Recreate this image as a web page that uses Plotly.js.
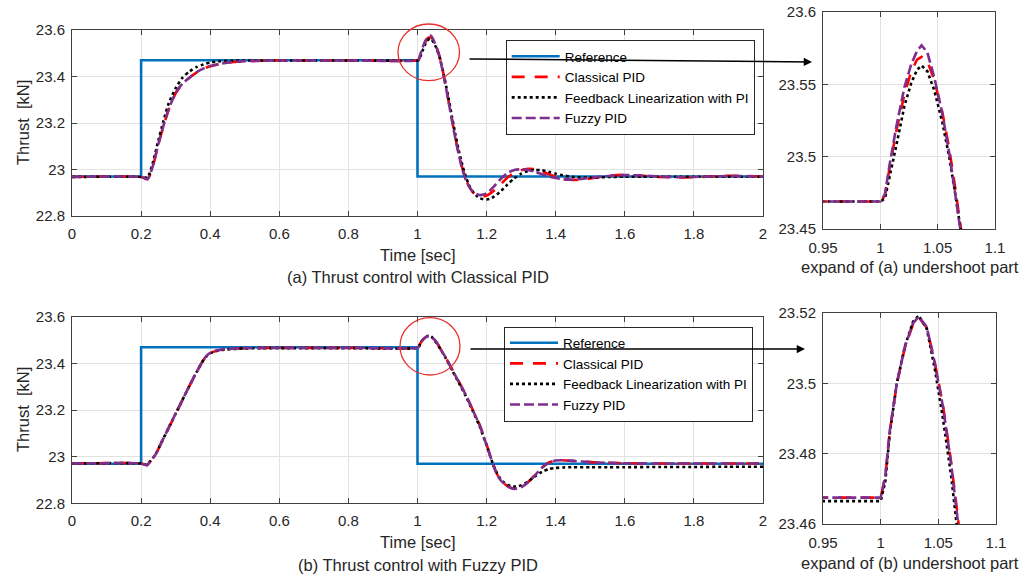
<!DOCTYPE html>
<html>
<head>
<meta charset="utf-8">
<script src="https://cdn.plot.ly/plotly-3.0.1.min.js"></script>
<style>html,body{margin:0;padding:0;background:#fff;}#chart{width:1035px;height:579px;}</style>
</head>
<body>
<div id="chart"></div>
<script>
// ---------- data ----------
const seriesNames = ["Reference", "Classical PID", "Feedback Linearization with PI", "Fuzzy PID"];

const refTime = [0, 0.2, 0.2, 1.0, 1.0, 2.0];
const refThrust = [22.97, 22.97, 23.47, 23.47, 22.97, 22.97];

// (a) Thrust control with Classical PID
const timeA = [0, 0.2, 0.21, 0.218, 0.225, 0.235, 0.25, 0.265, 0.28, 0.30, 0.32, 0.34, 0.36, 0.38, 0.40, 0.43, 0.46, 0.50, 0.55, 0.60, 0.80, 1.0,
  1.004, 1.008, 1.014, 1.021, 1.027, 1.032, 1.036, 1.041, 1.047, 1.054, 1.060, 1.065, 1.070,
  1.08, 1.09, 1.10, 1.11, 1.12, 1.13, 1.14, 1.15, 1.16, 1.17, 1.18, 1.19, 1.20, 1.21, 1.22,
  1.24, 1.26, 1.28, 1.30, 1.32, 1.34, 1.36, 1.38, 1.40, 1.42, 1.45, 1.48,
  1.52, 1.56, 1.60, 1.65, 1.70, 1.75, 1.80, 1.85, 1.90, 1.95, 2.0];
const classicalA = [22.968, 22.968, 22.962, 22.958, 22.974, 23.018, 23.108, 23.188, 23.258, 23.328, 23.369, 23.395, 23.417, 23.433, 23.444, 23.455, 23.462, 23.466, 23.468, 23.469, 23.469, 23.469,
  23.473, 23.492, 23.518, 23.543, 23.559, 23.567, 23.569, 23.566, 23.553, 23.531, 23.506, 23.480, 23.448,
  23.375, 23.295, 23.215, 23.135, 23.065, 23.005, 22.958, 22.925, 22.903, 22.891, 22.885, 22.884, 22.888, 22.896, 22.907,
  22.935, 22.965, 22.985, 22.997, 23.003, 23.001, 22.992, 22.980, 22.968, 22.960, 22.955, 22.957,
  22.966, 22.974, 22.977, 22.973, 22.968, 22.966, 22.967, 22.970, 22.973, 22.972, 22.970];
const feedbackA = [22.968, 22.968, 22.965, 22.966, 22.985, 23.035, 23.125, 23.21, 23.285, 23.35, 23.395, 23.422, 23.44, 23.452, 23.46, 23.466, 23.468, 23.469, 23.469, 23.469, 23.469, 23.469,
  23.471, 23.485, 23.508, 23.535, 23.551, 23.560, 23.563, 23.559, 23.546, 23.524, 23.500, 23.476, 23.448,
  23.38, 23.305, 23.225, 23.148, 23.078, 23.018, 22.968, 22.93, 22.905, 22.888, 22.877, 22.872, 22.871, 22.874, 22.882,
  22.905, 22.935, 22.962, 22.982, 22.994, 22.998, 22.997, 22.990, 22.982, 22.975, 22.968, 22.965,
  22.966, 22.968, 22.969, 22.969, 22.969, 22.969, 22.969, 22.969, 22.969, 22.969, 22.969];
const fuzzyA = [22.968, 22.968, 22.962, 22.958, 22.975, 23.02, 23.11, 23.19, 23.26, 23.33, 23.37, 23.395, 23.418, 23.434, 23.445, 23.455, 23.462, 23.466, 23.468, 23.469, 23.469, 23.469,
  23.474, 23.494, 23.521, 23.548, 23.564, 23.573, 23.577, 23.572, 23.555, 23.530, 23.503, 23.476, 23.443,
  23.37, 23.29, 23.21, 23.13, 23.06, 23.00, 22.955, 22.925, 22.905, 22.895, 22.890, 22.892, 22.898, 22.910, 22.925,
  22.958, 22.985, 22.998, 23.001, 22.998, 22.990, 22.980, 22.970, 22.963, 22.958, 22.956, 22.960,
  22.968, 22.973, 22.976, 22.974, 22.970, 22.967, 22.968, 22.970, 22.972, 22.971, 22.970];

// (b) Thrust control with Fuzzy PID
const timeB = [0, 0.2, 0.21, 0.218, 0.225, 0.24, 0.26, 0.28, 0.30, 0.32, 0.34, 0.36, 0.38, 0.39, 0.40, 0.42, 0.45, 0.50, 0.55, 0.60, 0.80, 1.0,
  1.004, 1.008, 1.014, 1.021, 1.028, 1.033, 1.04, 1.047, 1.054, 1.061, 1.067,
  1.08, 1.10, 1.12, 1.14, 1.16, 1.18, 1.20, 1.21, 1.22, 1.23, 1.24, 1.25, 1.26, 1.27, 1.28, 1.29, 1.30, 1.31, 1.32,
  1.34, 1.36, 1.38, 1.40, 1.42, 1.45, 1.50, 1.55, 1.60, 1.70, 1.80, 1.90, 2.0];
const classicalB = [22.971, 22.971, 22.966, 22.964, 22.977, 23.004, 23.064, 23.124, 23.184, 23.244, 23.304, 23.361, 23.414, 23.433, 23.445, 23.456, 23.463, 23.466, 23.4672, 23.4675, 23.4675, 23.4675,
  23.4734, 23.4865, 23.4998, 23.5102, 23.5168, 23.5188, 23.5158, 23.5058, 23.4937, 23.4778, 23.4618,
  23.431, 23.376, 23.321, 23.266, 23.201, 23.136, 23.052, 23.007, 22.962, 22.926, 22.901, 22.886, 22.874, 22.867, 22.863, 22.865, 22.870, 22.879, 22.891,
  22.921, 22.953, 22.975, 22.984, 22.985, 22.982, 22.977, 22.974, 22.972, 22.971, 22.971, 22.971, 22.971];
const feedbackB = [22.971, 22.971, 22.967, 22.965, 22.978, 23.005, 23.065, 23.125, 23.185, 23.245, 23.305, 23.362, 23.414, 23.432, 23.444, 23.455, 23.461, 23.465, 23.4662, 23.4665, 23.4665, 23.4665,
  23.472, 23.486, 23.500, 23.5105, 23.5175, 23.5193, 23.5155, 23.504, 23.490, 23.474, 23.4605,
  23.428, 23.372, 23.316, 23.26, 23.196, 23.13, 23.048, 23.005, 22.962, 22.93, 22.905, 22.89, 22.88, 22.874, 22.872, 22.873, 22.877, 22.884, 22.893,
  22.915, 22.935, 22.947, 22.952, 22.954, 22.955, 22.955, 22.955, 22.955, 22.956, 22.956, 22.957, 22.957];
const fuzzyB = [22.971, 22.971, 22.966, 22.964, 22.978, 23.005, 23.065, 23.125, 23.185, 23.245, 23.305, 23.362, 23.415, 23.434, 23.446, 23.457, 23.463, 23.466, 23.4672, 23.4675, 23.4675, 23.4675,
  23.4736, 23.4868, 23.500, 23.5104, 23.517, 23.519, 23.516, 23.5057, 23.4934, 23.4774, 23.4613,
  23.43, 23.375, 23.32, 23.265, 23.2, 23.135, 23.05, 23.005, 22.96, 22.925, 22.90, 22.885, 22.873, 22.866, 22.862, 22.864, 22.869, 22.878, 22.89,
  22.92, 22.952, 22.975, 22.984, 22.985, 22.982, 22.977, 22.974, 22.972, 22.971, 22.971, 22.971, 22.971];

const mainXTicks = [0, 0.2, 0.4, 0.6, 0.8, 1, 1.2, 1.4, 1.6, 1.8, 2];
const mainYTicks = [22.8, 23, 23.2, 23.4, 23.6];
const zoomXTicks = [0.95, 1, 1.05, 1.1];
const zoomAYTicks = [23.45, 23.5, 23.55, 23.6];
const zoomBYTicks = [23.46, 23.48, 23.5, 23.52];

const captions = {
  yTitle: "Thrust  [kN]",
  xTitle: "Time [sec]",
  capA: "(a) Thrust control with Classical PID",
  capB: "(b) Thrust control with Fuzzy PID",
  zoomA: "expand of (a) undershoot part",
  zoomB: "expand of (b) undershoot part"
};

// ---------- styles ----------
const FONT = "Liberation Sans, Arial, Helvetica, sans-serif";
const W = 1035, H = 579;
const styles = {
  ref: {color: "#0072BD", width: 2.6, dash: "solid"},
  classical: {color: "#FF0000", width: 2.6, dash: "13px,10px"},
  feedback: {color: "#000000", width: 2.6, dash: "dot"},
  fuzzy: {color: "#7E2F8E", width: 2.6, dash: "10px,4px"}
};

function tr(x, y, name, st, xa, ya, leg, show, shape) {
  return {
    type: "scatter", mode: "lines", x: x, y: y, name: name,
    xaxis: xa, yaxis: ya, legend: leg, showlegend: show,
    line: {color: st.color, width: st.width, dash: st.dash, shape: shape || "linear", smoothing: 0.6},
    hoverinfo: "skip"
  };
}

const traces = [
  tr(refTime, refThrust, seriesNames[0], styles.ref, "x", "y", "legend", true),
  tr(timeA, classicalA, seriesNames[1], styles.classical, "x", "y", "legend", true, "spline"),
  tr(timeA, feedbackA, seriesNames[2], styles.feedback, "x", "y", "legend", true, "spline"),
  tr(timeA, fuzzyA, seriesNames[3], styles.fuzzy, "x", "y", "legend", true, "spline"),

  tr(timeA, classicalA, seriesNames[1], styles.classical, "x2", "y2", "legend", false),
  tr(timeA, feedbackA, seriesNames[2], styles.feedback, "x2", "y2", "legend", false),
  tr(timeA, fuzzyA, seriesNames[3], styles.fuzzy, "x2", "y2", "legend", false),

  tr(refTime, refThrust, seriesNames[0], styles.ref, "x3", "y3", "legend2", true),
  tr(timeB, classicalB, seriesNames[1], styles.classical, "x3", "y3", "legend2", true, "spline"),
  tr(timeB, feedbackB, seriesNames[2], styles.feedback, "x3", "y3", "legend2", true, "spline"),
  tr(timeB, fuzzyB, seriesNames[3], styles.fuzzy, "x3", "y3", "legend2", true, "spline"),

  tr(timeB, classicalB, seriesNames[1], styles.classical, "x4", "y4", "legend2", false),
  tr(timeB, feedbackB, seriesNames[2], styles.feedback, "x4", "y4", "legend2", false),
  tr(timeB, fuzzyB, seriesNames[3], styles.fuzzy, "x4", "y4", "legend2", false)
];

const px = v => v / W;
const py = v => 1 - v / H;

function axis(domain, range, tickvals, anchor, extra) {
  return Object.assign({
    domain: domain, range: range, tickvals: tickvals, anchor: anchor,
    showline: true, linecolor: "#404040", linewidth: 1, mirror: "ticks",
    ticks: "inside", ticklen: 5, tickcolor: "#404040", tickwidth: 1,
    showgrid: true, gridcolor: "#e2e2e2", gridwidth: 1, zeroline: false,
    tickfont: {family: FONT, size: 15, color: "#262626"},
    fixedrange: true
  }, extra || {});
}

const legendStyle = (x, y) => ({
  x: x, y: y, xref: "paper", yref: "paper", xanchor: "left", yanchor: "top",
  bgcolor: "#ffffff", bordercolor: "#262626", borderwidth: 1,
  font: {family: FONT, size: 13.5, color: "#000"},
  itemwidth: 48, tracegroupgap: 0, traceorder: "normal", itemclick: false, itemdoubleclick: false
});

function ann(text, x, y, opts) {
  return Object.assign({
    text: text, x: x, y: y, xref: "paper", yref: "paper", showarrow: false,
    xanchor: "center", yanchor: "middle",
    font: {family: FONT, size: 16.5, color: "#262626"}
  }, opts || {});
}

const layout = {
  width: W, height: H,
  margin: {l: 0, r: 0, t: 0, b: 0},
  paper_bgcolor: "#ffffff", plot_bgcolor: "#ffffff",
  xaxis: axis([px(72), px(763)], [0, 2], mainXTicks, "y", {ticklabelstandoff: 4}),
  yaxis: axis([py(216), py(30)], [22.8, 23.6], mainYTicks, "x", {ticklabelstandoff: 3}),
  xaxis2: axis([px(823), px(995)], [0.95, 1.1], zoomXTicks, "y2", {ticklabelstandoff: 5}),
  yaxis2: axis([py(229), py(12)], [23.45, 23.6], zoomAYTicks, "x2", {ticklabelstandoff: 3}),
  xaxis3: axis([px(72), px(763)], [0, 2], mainXTicks, "y3", {ticklabelstandoff: 4}),
  yaxis3: axis([py(503.3), py(317)], [22.8, 23.6], mainYTicks, "x3", {ticklabelstandoff: 3}),
  xaxis4: axis([px(823), px(996)], [0.95, 1.1], zoomXTicks, "y4", {ticklabelstandoff: 5}),
  yaxis4: axis([py(524), py(313)], [23.46, 23.52], zoomBYTicks, "x4", {ticklabelstandoff: 3}),
  legend: legendStyle(px(505.7), py(40)),
  legend2: legendStyle(px(504), py(326.5)),
  annotations: [
    ann(captions.yTitle, px(23), py(123), {textangle: -90}),
    ann(captions.xTitle, px(417.5), py(255.5)),
    ann(captions.capA, px(417.5), py(277.5)),
    ann(captions.zoomA, px(910), py(267)),
    ann(captions.yTitle, px(23), py(410), {textangle: -90}),
    ann(captions.xTitle, px(417.5), py(541.7)),
    ann(captions.capB, px(417.5), py(565)),
    ann(captions.zoomB, px(909.5), py(563)),
    // arrows
    {x: px(812), y: py(62), xref: "paper", yref: "paper", ax: -344, ay: -3, axref: "pixel", ayref: "pixel",
     showarrow: true, arrowhead: 2, arrowsize: 1.1, arrowwidth: 1.5, arrowcolor: "#000", text: ""},
    {x: px(805), y: py(349), xref: "paper", yref: "paper", ax: -336, ay: 0, axref: "pixel", ayref: "pixel",
     showarrow: true, arrowhead: 2, arrowsize: 1.1, arrowwidth: 1.5, arrowcolor: "#000", text: ""}
  ],
  shapes: [
    {type: "circle", xref: "paper", yref: "paper", x0: px(398), x1: px(459.5), y0: py(80.7), y1: py(24),
     line: {color: "#E8302A", width: 1.3}, layer: "above"},
    {type: "circle", xref: "paper", yref: "paper", x0: px(400), x1: px(460), y0: py(375), y1: py(317.7),
     line: {color: "#E8302A", width: 1.3}, layer: "above"}
  ],
  showlegend: true
};

Plotly.newPlot("chart", traces, layout, {displayModeBar: false, staticPlot: true});
</script>
</body>
</html>
